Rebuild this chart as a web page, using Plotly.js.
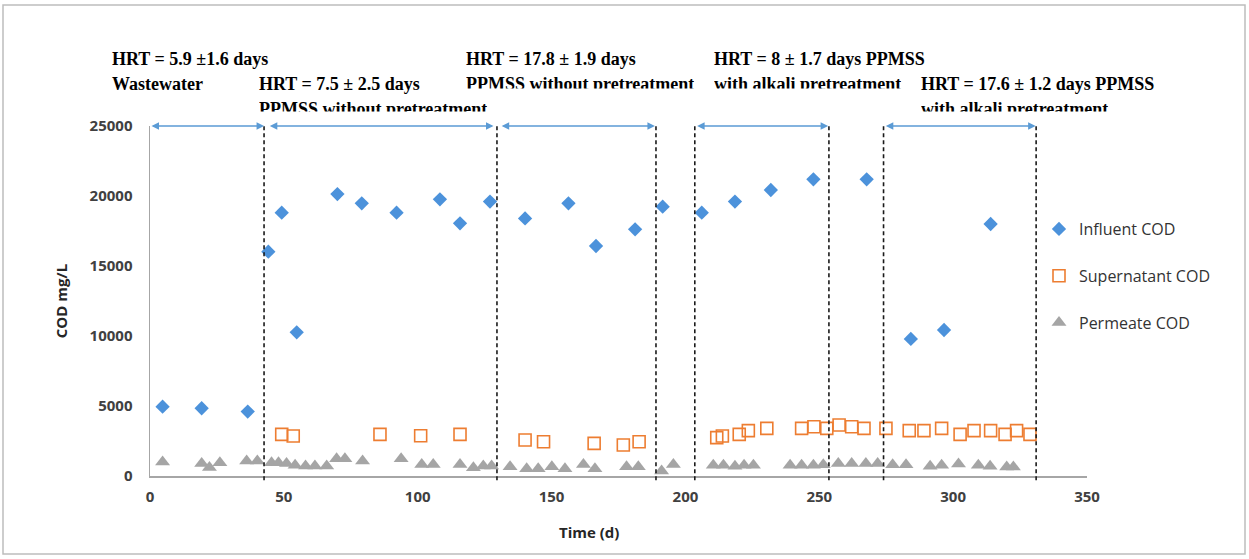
<!DOCTYPE html>
<html>
<head>
<meta charset="utf-8">
<script src="https://cdn.plot.ly/plotly-3.0.1.min.js"></script>
<style>
  html, body { margin: 0; padding: 0; background: #ffffff; }
  #chart { width: 1249px; height: 559px; }
</style>
</head>
<body>
<div id="chart"></div>
<script>
// ---- Data ----
const influentDay = [4.7, 19.3, 36.5, 44.2, 49.2, 54.8, 70, 79.1, 92.1, 108.3, 115.8, 127,
  140.1, 156.3, 166.6, 181.2, 191.5, 206.1, 218.5, 231.9, 247.8, 267.7, 284.2, 296.6, 314];
const influentCOD = [4950, 4840, 4600, 16020, 18810, 10260, 20140, 19480, 18810, 19760, 18050, 19600,
  18400, 19480, 16430, 17620, 19240, 18810, 19600, 20430, 21190, 21190, 9790, 10430, 18000];

const supernatantDay = [49.2, 53.5, 85.9, 101.1, 115.8, 140.1, 147, 165.9, 176.8, 182.7,
  211.7, 213.8, 220.1, 223.5, 230.4, 243.4, 248, 252.8, 257.4, 262.1, 266.7,
  274.9, 283.6, 289.1, 295.7, 302.6, 307.8, 314, 319.4, 323.7, 328.7];
const supernatantCOD = [2975, 2860, 2975, 2880, 2975, 2570, 2450, 2330, 2210, 2450,
  2740, 2860, 2975, 3240, 3400, 3400, 3520, 3400, 3640, 3520, 3400,
  3400, 3240, 3240, 3400, 2975, 3240, 3240, 2975, 3240, 2975];

const permeateDay = [4.7, 19.3, 22.2, 26.1, 36.1, 40.1, 45.4, 48, 51, 54.2, 58.1, 61.6, 66,
  69.7, 72.8, 79.4, 93.8, 101.5, 105.8, 115.8, 120.8, 124.5, 127.6, 134.5, 140.7, 145,
  150.1, 155, 161.9, 166.2, 178, 182.4, 191.1, 195.5, 210.4, 214.2, 218.5, 221.9, 225.4,
  239.1, 243.4, 247.8, 251.5, 257.1, 262.1, 267.4, 271.8, 277.4, 282.4, 291.4, 295.7,
  302, 309.4, 313.8, 320, 322.5];
const permeateCOD = [1000, 900, 600, 950, 1070, 1070, 950, 950, 900, 760, 710, 710, 710,
  1240, 1240, 1070, 1240, 830, 830, 830, 595, 710, 710, 660, 520, 520,
  660, 520, 830, 520, 660, 660, 350, 830, 760, 760, 700, 760, 760,
  760, 760, 760, 800, 900, 900, 900, 900, 800, 800, 700, 760,
  850, 760, 700, 650, 650];

const seriesNames = ['Influent COD', 'Supernatant COD', 'Permeate COD'];
const xTickValues = [0, 50, 100, 150, 200, 250, 300, 350];
const yTickValues = [0, 5000, 10000, 15000, 20000, 25000];

// Phase boundaries (days) and phase arrows [start, end] (days)
const phaseBoundaries = [42.6, 129.6, 189, 203.5, 253.6, 274, 331];
const phaseArrowStart = [0, 44.2, 130.8, 203.8, 274.3];
const phaseArrowEnd = [42.6, 128.3, 188.6, 253.3, 330.8];
const phaseLabelLine1 = [
  'HRT = 5.9 ±1.6 days',
  'HRT = 7.5 ± 2.5 days',
  'HRT = 17.8 ± 1.9 days',
  'HRT = 8 ± 1.7 days PPMSS',
  'HRT = 17.6 ± 1.2 days PPMSS'
];
const phaseLabelLine2 = [
  'Wastewater',
  'PPMSS without pretreatment',
  'PPMSS without pretreatment',
  'with alkali pretreatment',
  'with alkali pretreatment'
];

// ---- Layout helpers (pixel -> paper) ----
const W = 1249, H = 559, ML = 150, MR = 162, MT = 126, MB = 83;
const PW = W - ML - MR, PH = H - MT - MB;
const px = p => (p - ML) / PW;
const py = p => (H - MB - p) / PH;

const traces = [
  {
    x: influentDay, y: influentCOD, name: seriesNames[0], type: 'scatter', mode: 'markers',
    legendgroup: 'a',
    marker: { symbol: 'diamond', size: 11, color: '#4C92DB', line: { width: 0 } },
    cliponaxis: false
  },
  {
    x: supernatantDay, y: supernatantCOD, name: seriesNames[1], type: 'scatter', mode: 'markers',
    legendgroup: 'b',
    marker: { symbol: 'square-open', size: 12, color: '#ED7D31', line: { width: 1.6, color: '#ED7D31' } },
    cliponaxis: false
  },
  {
    x: permeateDay, y: permeateCOD, name: seriesNames[2], type: 'scatter', mode: 'markers',
    legendgroup: 'c',
    marker: { symbol: 'triangle-up', size: 13, color: '#A5A5A5', line: { width: 0 } },
    cliponaxis: false
  }
];

const shapes = phaseBoundaries.map(b => ({
  type: 'line', xref: 'x', yref: 'paper', x0: b, x1: b, y0: -0.012, y1: 1,
  line: { color: '#1a1a1a', width: 1.6, dash: '4px,3px' }, layer: 'above'
}));
// outer frame
shapes.push({
  type: 'rect', xref: 'paper', yref: 'paper',
  x0: px(3), x1: px(1245), y0: py(554), y1: py(5),
  line: { color: '#bdbdbd', width: 1.5 }, fillcolor: 'rgba(0,0,0,0)', layer: 'below'
});

const annotations = [];
phaseArrowStart.forEach((s, i) => {
  annotations.push({
    xref: 'x', yref: 'y', axref: 'x', ayref: 'y',
    x: phaseArrowEnd[i], y: 25000, ax: s, ay: 25000,
    text: '', showarrow: true, arrowside: 'end+start', arrowhead: 2, arrowsize: 1,
    arrowwidth: 1.5, arrowcolor: '#5B9BD5', standoff: 0, startstandoff: 0
  });
});

// text rows (top pixel of each row) and per-block placement
const rowTop = [47.5, 72.5, 98];
const labelX = [111, 258, 465, 713, 920];
const labelRow = [0, 1, 0, 0, 1];
const clipLine2 = [null, 12.5, 14.5, 14.5, 12.5];
const labelFont = { family: '"Liberation Serif", "Times New Roman", serif', size: 18, color: '#000000', weight: 'bold' };

phaseLabelLine1.forEach((t, i) => {
  const r = labelRow[i];
  annotations.push({
    xref: 'paper', yref: 'paper', x: px(labelX[i]), y: py(rowTop[r]),
    xanchor: 'left', yanchor: 'top', align: 'left', valign: 'top', borderpad: 0,
    text: t, showarrow: false, font: labelFont
  });
  const a2 = {
    xref: 'paper', yref: 'paper', x: px(labelX[i]), y: py(rowTop[r + 1]),
    xanchor: 'left', yanchor: 'top', align: 'left', valign: 'top', borderpad: 0,
    text: phaseLabelLine2[i], showarrow: false, font: labelFont
  };
  if (clipLine2[i] !== null) a2.height = clipLine2[i];
  annotations.push(a2);
});

// x-axis title (placed as in the reference)
annotations.push({
  xref: 'paper', yref: 'paper', x: px(589), y: py(532), xanchor: 'center', yanchor: 'middle',
  text: 'Time (d)', showarrow: false,
  font: { family: '"Open Sans", sans-serif', size: 15, color: '#262626', weight: 'bold' }
});

const tickFont = { family: '"Open Sans", sans-serif', size: 15, color: '#404040', weight: 'bold' };

const layout = {
  width: W, height: H,
  margin: { l: ML, r: MR, t: MT, b: MB, pad: 0 },
  paper_bgcolor: '#ffffff', plot_bgcolor: '#ffffff',
  showlegend: true,
  legend: {
    x: px(1039), y: py(212), xanchor: 'left', yanchor: 'top',
    traceorder: 'grouped', tracegroupgap: 23, itemwidth: 30,
    font: { family: '"Open Sans", sans-serif', size: 16, color: '#333333' },
    bgcolor: 'rgba(0,0,0,0)'
  },
  xaxis: {
    range: [0, 350], tickvals: xTickValues, ticks: '', showgrid: false, zeroline: false,
    showline: true, linecolor: '#a6a6a6', linewidth: 1.5,
    tickfont: tickFont, ticklabelstandoff: 6
  },
  yaxis: {
    range: [0, 25000], tickvals: yTickValues, tickformat: 'd', ticks: '', showgrid: false,
    zeroline: false, showline: true, linecolor: '#a6a6a6', linewidth: 1.5,
    tickfont: tickFont, ticklabelstandoff: 13,
    title: { text: 'COD mg/L', standoff: 18,
      font: { family: '"Open Sans", sans-serif', size: 15, color: '#262626', weight: 'bold' } }
  },
  shapes: shapes,
  annotations: annotations
};

Plotly.newPlot('chart', traces, layout, { displayModeBar: false, staticPlot: true });
</script>
</body>
</html>
